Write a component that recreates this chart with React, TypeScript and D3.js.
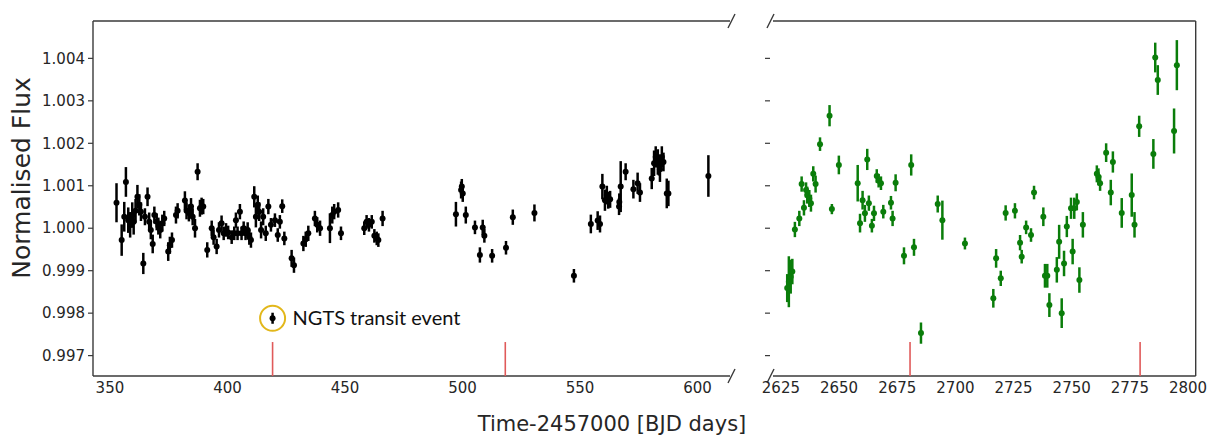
import React from "react";
import * as d3 from "d3";

// ---- data ----
const leftTime = [352.8,355.0,356.1,356.8,357.8,358.6,359.5,360.1,360.9,361.7,362.5,363.2,364.2,364.9,366.0,366.7,367.4,368.2,368.9,369.9,370.6,371.4,372.3,373.1,374.8,375.5,376.4,378.1,378.8,381.9,382.6,383.6,384.5,385.2,386.2,387.3,388.3,389.0,389.7,391.4,393.3,394.1,395.4,396.4,397.5,398.4,399.4,400.3,401.8,402.9,403.6,404.3,405.3,406.0,406.9,407.7,408.6,409.3,410.0,411.4,412.1,412.9,413.5,414.3,415.2,416.3,417.4,418.5,420.2,421.4,422.3,423.3,424.2,427.3,428.3,432.3,433.3,434.4,437.2,438.2,439.4,443.6,444.6,445.4,447.1,448.3,458.2,459.2,460.2,461.4,462.5,463.5,464.2,466.0,497.2,499.4,499.7,500.1,501.4,505.3,507.4,508.6,509.3,512.6,518.5,521.4,530.6,547.4,554.6,557.5,558.5,559.5,560.6,561.4,562.0,562.8,566.6,566.7,567.3,569.4,572.7,574.5,575.5,580.5,581.5,582.2,583.1,583.6,584.0,584.8,585.5,586.9,587.6,604.6];
const leftFlux = [1.00060,0.99972,1.00027,1.00109,1.00019,1.00008,1.00031,1.00015,1.00041,1.00074,1.00055,1.00039,0.99917,1.00027,1.00074,1.00015,0.99996,0.99963,1.00031,1.00015,1.00005,0.99996,1.00012,1.00023,0.99945,0.99960,0.99972,1.00031,1.00041,1.00065,1.00041,1.00036,1.00051,1.00027,1.00000,1.00133,1.00047,1.00052,1.00051,0.99949,1.00000,0.99979,0.99957,0.99996,1.00012,0.99988,0.99996,0.99990,0.99979,0.99988,1.00019,0.99988,1.00039,0.99988,1.00000,0.99988,0.99996,0.99979,0.99972,1.00074,1.00027,1.00055,1.00039,0.99996,1.00027,0.99988,1.00051,1.00008,1.00019,0.99984,1.00015,1.00052,0.99976,0.99929,0.99913,0.99964,0.99974,0.99988,1.00023,1.00008,1.00000,1.00000,1.00031,1.00039,1.00043,0.99988,1.00000,1.00015,1.00008,1.00015,0.99982,0.99976,0.99972,1.00023,1.00033,1.00090,1.00098,1.00082,1.00031,1.00002,0.99937,1.00002,0.99982,0.99935,0.99954,1.00026,1.00036,0.99888,1.00010,1.00018,1.00010,1.00098,1.00066,1.00078,1.00066,1.00068,1.00051,1.00062,1.00098,1.00133,1.00092,1.00106,1.00084,1.00117,1.00153,1.00168,1.00156,1.00149,1.00139,1.00168,1.00156,1.00082,1.00082,1.00123];
const leftErr = [0.00046,0.00037,0.00035,0.00035,0.00030,0.00030,0.00030,0.00030,0.00028,0.00028,0.00025,0.00022,0.00025,0.00020,0.00022,0.00022,0.00022,0.00022,0.00020,0.00020,0.00020,0.00020,0.00020,0.00018,0.00022,0.00020,0.00018,0.00020,0.00018,0.00022,0.00020,0.00020,0.00020,0.00020,0.00022,0.00020,0.00020,0.00020,0.00018,0.00018,0.00018,0.00018,0.00018,0.00018,0.00018,0.00016,0.00016,0.00016,0.00016,0.00016,0.00018,0.00016,0.00018,0.00016,0.00016,0.00016,0.00018,0.00018,0.00018,0.00025,0.00025,0.00022,0.00022,0.00020,0.00020,0.00018,0.00018,0.00016,0.00016,0.00016,0.00016,0.00016,0.00016,0.00020,0.00018,0.00018,0.00018,0.00018,0.00018,0.00018,0.00018,0.00035,0.00020,0.00018,0.00018,0.00016,0.00016,0.00016,0.00016,0.00016,0.00016,0.00016,0.00016,0.00018,0.00029,0.00020,0.00018,0.00020,0.00020,0.00016,0.00018,0.00018,0.00016,0.00016,0.00016,0.00018,0.00020,0.00016,0.00022,0.00022,0.00020,0.00030,0.00025,0.00022,0.00020,0.00020,0.00020,0.00020,0.00060,0.00020,0.00022,0.00025,0.00022,0.00025,0.00030,0.00025,0.00030,0.00025,0.00030,0.00025,0.00022,0.00035,0.00030,0.00049];

const transitTime = [419.2];
const transitFlux = [0.99788];
const transitErr = [0.00013];

const rightTime = [2627.7,2628.4,2629.2,2629.9,2631.0,2632.9,2633.9,2634.9,2635.8,2636.3,2637.2,2637.9,2638.9,2639.9,2641.8,2645.9,2646.9,2649.9,2658.0,2659.0,2660.1,2661.1,2662.1,2662.8,2664.1,2665.0,2666.2,2667.0,2668.0,2669.0,2672.3,2673.0,2674.3,2677.9,2681.0,2682.2,2685.2,2692.4,2694.4,2704.1,2716.3,2717.5,2719.5,2721.6,2725.6,2727.8,2728.5,2730.4,2732.5,2733.8,2737.8,2738.5,2739.5,2740.4,2743.6,2744.6,2745.7,2746.7,2747.9,2749.7,2750.4,2751.1,2752.2,2753.3,2754.8,2760.8,2761.5,2762.2,2764.8,2766.8,2767.7,2771.5,2775.8,2777.0,2779.0,2785.1,2785.9,2787.0,2794.0,2795.2];
const rightFlux = [0.99859,0.99874,0.99886,0.99898,0.99997,1.00023,1.00104,1.00048,1.00090,1.00078,1.00070,1.00059,1.00128,1.00104,1.00198,1.00265,1.00045,1.00149,1.00106,1.00012,1.00066,1.00035,1.00162,1.00059,1.00006,1.00035,1.00123,1.00112,1.00106,1.00039,1.00060,1.00023,1.00107,0.99935,1.00149,0.99955,0.99753,1.00057,1.00019,0.99964,0.99835,0.99929,0.99882,1.00036,1.00041,0.99966,0.99933,1.00002,0.99984,1.00084,1.00027,0.99888,0.99888,0.99819,0.99902,0.99968,0.99800,0.99917,1.00004,1.00047,0.99945,1.00047,1.00062,0.99878,1.00008,1.00128,1.00121,1.00106,1.00178,1.00084,1.00156,1.00036,1.00078,1.00008,1.00240,1.00175,1.00402,1.00349,1.00229,1.00384];
const rightErr = [0.00033,0.00060,0.00040,0.00030,0.00018,0.00018,0.00018,0.00018,0.00018,0.00020,0.00020,0.00020,0.00018,0.00020,0.00016,0.00025,0.00012,0.00022,0.00043,0.00022,0.00022,0.00020,0.00025,0.00018,0.00016,0.00018,0.00016,0.00016,0.00016,0.00016,0.00016,0.00018,0.00020,0.00020,0.00025,0.00020,0.00025,0.00020,0.00046,0.00014,0.00022,0.00022,0.00018,0.00018,0.00018,0.00018,0.00016,0.00016,0.00016,0.00016,0.00022,0.00028,0.00028,0.00028,0.00030,0.00040,0.00035,0.00030,0.00025,0.00025,0.00030,0.00025,0.00020,0.00030,0.00030,0.00020,0.00020,0.00018,0.00022,0.00030,0.00025,0.00035,0.00051,0.00030,0.00025,0.00035,0.00035,0.00035,0.00053,0.00059];

const leftXTicks = [350, 400, 450, 500, 550, 600];
const rightXTicks = [2625, 2650, 2675, 2700, 2725, 2750, 2775, 2800];
const yTicks = [0.997, 0.998, 0.999, 1.0, 1.001, 1.002, 1.003, 1.004];
const leftTransitMarks = [419.2, 518.2];
const rightTransitMarks = [2680.5, 2779.4];
const transitMarkTop = 0.99732;

const yLabel = "Normalised Flux";
const xLabel = "Time-2457000 [BJD days]";
const annotation = "NGTS transit event";

// ---- layout ----
const W = 1210, H = 435;
const TOP = 21, BOTTOM = 376;
const L = { x0: 93, x1: 730 };
const R = { x0: 770, x1: 1195.7 };
const FRAME = "#3a3a3a";
const GREEN = "#0a7d0a";
const RED = "#e05a5a";
const TICKFONT = "'DejaVu Sans', sans-serif";

const y = d3.scaleLinear().domain([0.99652, 1.00488]).range([BOTTOM, TOP]);
const xL = d3.scaleLinear().domain([342.8, 613.8]).range([L.x0, L.x1]);
const xR = d3.scaleLinear().domain([2620.3, 2803.3]).range([R.x0, R.x1]);

function ErrPoints({ t, f, e, x, color }: { t: number[]; f: number[]; e: number[]; x: d3.ScaleLinear<number, number>; color: string }) {
  return (
    <g>
      {t.map((ti, i) => (
        <g key={i}>
          <line x1={x(ti)} x2={x(ti)} y1={y(f[i] - e[i])} y2={y(f[i] + e[i])} stroke={color} strokeWidth={2.5} />
          <circle cx={x(ti)} cy={y(f[i])} r={3} fill={color} />
        </g>
      ))}
    </g>
  );
}

export default function App() {
  return (
    <svg width={W} height={H} style={{ position: "absolute", left: 0, top: 0, background: "#fff" }}>
      {/* left panel frame: left, top, bottom */}
      <g stroke={FRAME} strokeWidth={1.4} fill="none">
        <line x1={L.x0} x2={L.x0} y1={TOP} y2={BOTTOM} />
        <line x1={L.x0} x2={L.x1} y1={TOP} y2={TOP} />
        <line x1={L.x0} x2={L.x1} y1={BOTTOM} y2={BOTTOM} />
        {/* right panel frame: top, right, bottom */}
        <line x1={R.x0 + 3} x2={R.x1} y1={TOP} y2={TOP} />
        <line x1={R.x1} x2={R.x1} y1={TOP} y2={BOTTOM} />
        <line x1={R.x0 + 3} x2={R.x1} y1={BOTTOM} y2={BOTTOM} />
        {/* break marks */}
        <line x1={L.x1 - 2} x2={L.x1 + 5} y1={TOP + 7} y2={TOP - 7} />
        <line x1={L.x1 - 2} x2={L.x1 + 5} y1={BOTTOM + 7} y2={BOTTOM - 7} />
        <line x1={R.x0 - 3} x2={R.x0 + 4} y1={TOP + 7} y2={TOP - 7} />
        <line x1={R.x0 - 3} x2={R.x0 + 4} y1={BOTTOM + 7} y2={BOTTOM - 7} />
      </g>

      {/* y ticks */}
      {yTicks.map((v) => (
        <g key={v}>
          <line x1={L.x0 - 5} x2={L.x0} y1={y(v)} y2={y(v)} stroke={FRAME} strokeWidth={1.2} />
          <text x={L.x0 - 8} y={y(v)} dy="0.35em" textAnchor="end" fontSize={15} fontFamily={TICKFONT} fill="#262626">
            {d3.format(".3f")(v)}
          </text>
          <line x1={R.x0 - 5} x2={R.x0} y1={y(v)} y2={y(v)} stroke={FRAME} strokeWidth={1.2} />
        </g>
      ))}

      {/* x tick labels */}
      {leftXTicks.map((v) => (
        <text key={v} x={xL(v)} y={BOTTOM + 17} textAnchor="middle" fontSize={15} fontFamily={TICKFONT} fill="#262626">
          {v}
        </text>
      ))}
      {rightXTicks.map((v) => (
        <text key={v} x={xR(v)} y={BOTTOM + 17} textAnchor="middle" fontSize={15} fontFamily={TICKFONT} fill="#262626">
          {v}
        </text>
      ))}

      {/* transit marks */}
      {leftTransitMarks.map((v) => (
        <line key={v} x1={xL(v)} x2={xL(v)} y1={BOTTOM} y2={y(transitMarkTop)} stroke={RED} strokeWidth={1.6} />
      ))}
      {rightTransitMarks.map((v) => (
        <line key={v} x1={xR(v)} x2={xR(v)} y1={BOTTOM} y2={y(transitMarkTop)} stroke={RED} strokeWidth={1.6} />
      ))}

      {/* data */}
      <ErrPoints t={leftTime} f={leftFlux} e={leftErr} x={xL} color="#000" />
      <ErrPoints t={transitTime} f={transitFlux} e={transitErr} x={xL} color="#000" />
      <ErrPoints t={rightTime} f={rightFlux} e={rightErr} x={xR} color={GREEN} />

      {/* annotation */}
      <circle cx={xL(transitTime[0])} cy={y(transitFlux[0])} r={12.5} fill="none" stroke="#e2b71a" strokeWidth={2} />
      <text x={xL(transitTime[0]) + 20} y={y(transitFlux[0]) + 7} fontSize={20} fontFamily="Lato, 'Open Sans', sans-serif" fill="#111">
        {annotation}
      </text>

      {/* axis labels */}
      <text x={612} y={431} textAnchor="middle" fontSize={21} fontFamily={TICKFONT} fill="#262626">
        {xLabel}
      </text>
      <text transform={`translate(30, 178) rotate(-90)`} textAnchor="middle" fontSize={25} fontFamily={TICKFONT} fill="#262626">
        {yLabel}
      </text>
    </svg>
  );
}
